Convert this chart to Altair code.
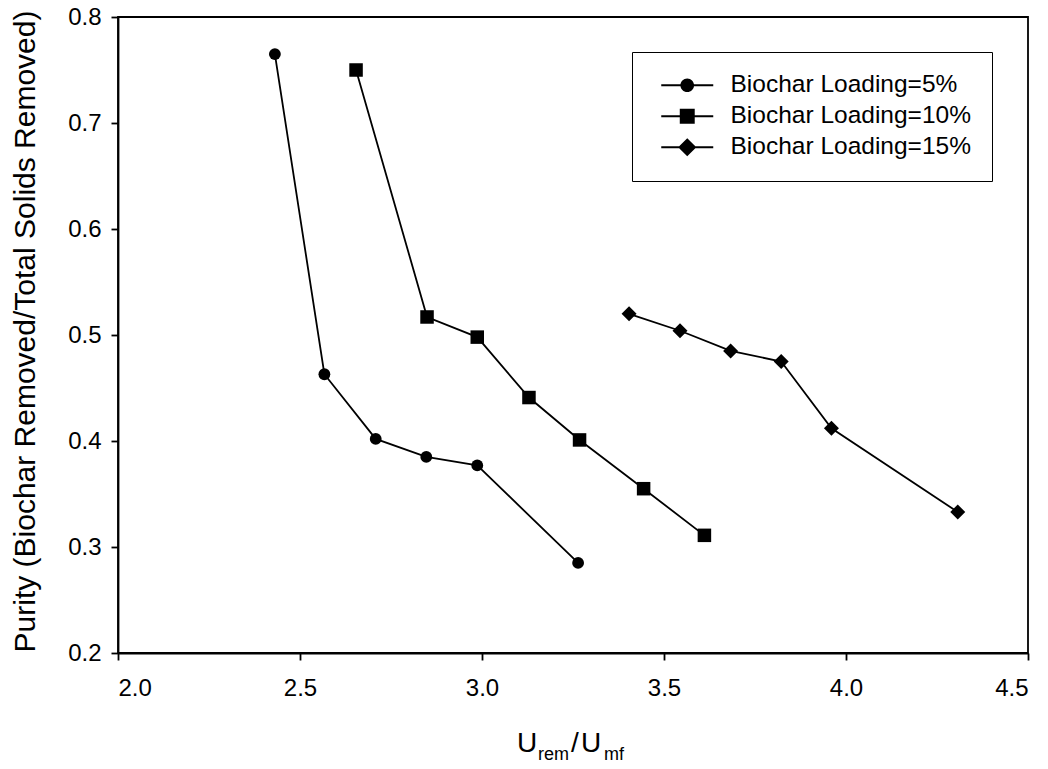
import altair as alt
import pandas as pd

# Series names (legend labels)
series = ["Biochar Loading=5%", "Biochar Loading=10%", "Biochar Loading=15%"]

# U_rem/U_mf values and purity for each biochar loading
u_5 = [2.431, 2.567, 2.708, 2.847, 2.987, 3.264]
p_5 = [0.765, 0.463, 0.402, 0.385, 0.377, 0.285]

u_10 = [2.654, 2.849, 2.987, 3.129, 3.268, 3.444, 3.611]
p_10 = [0.750, 0.517, 0.498, 0.441, 0.401, 0.355, 0.311]

u_15 = [3.404, 3.544, 3.683, 3.822, 3.960, 4.307]
p_15 = [0.520, 0.504, 0.485, 0.475, 0.412, 0.333]

x_ticks = [2.0, 2.5, 3.0, 3.5, 4.0, 4.5]
y_ticks = [0.2, 0.3, 0.4, 0.5, 0.6, 0.7, 0.8]

rows = []
for name, us, ps in zip(series, [u_5, u_10, u_15], [p_5, p_10, p_15]):
    for i, (u, p) in enumerate(zip(us, ps)):
        rows.append({"series": name, "u": u, "p": p, "i": i})
df = pd.DataFrame(rows)

W, H = 910, 636
FONT = "Liberation Sans"

x_enc = alt.X(
    "u:Q",
    scale=alt.Scale(domain=[2.0, 4.5], nice=False, zero=False),
    axis=alt.Axis(values=x_ticks, format=".1f", title=None, grid=False,
                  tickSize=7, labelPadding=16),
)
y_enc = alt.Y(
    "p:Q",
    scale=alt.Scale(domain=[0.2, 0.8], nice=False, zero=False),
    axis=alt.Axis(values=y_ticks, format=".1f", grid=False, tickSize=7,
                  labelPadding=10,
                  title="Purity (Biochar Removed/Total Solids Removed)",
                  titleAngle=270, titleX=-93, titleY=314,
                  titleAlign="center", titleBaseline="middle"),
)

base = alt.Chart(df)

lines = base.mark_line(color="black", strokeWidth=1.8).encode(
    x=x_enc, y=y_enc, detail="series:N", order="i:Q"
)

points = base.mark_point(filled=True, color="black", opacity=1).encode(
    x=x_enc,
    y=y_enc,
    shape=alt.Shape("series:N",
                    scale=alt.Scale(domain=series,
                                    range=["circle", "square", "diamond"]),
                    legend=None),
    size=alt.Size("series:O",
                  scale=alt.Scale(domain=series, range=[140, 225, 324]),
                  legend=None),
)

# Legend symbols: marker with short filled bars either side standing in
# for the connecting line
bars = "M-4,-0.15L-0.9,-0.15L-0.9,0.15L-4,0.15ZM0.9,-0.15L4,-0.15L4,0.15L0.9,0.15Z"
legend_paths = [
    bars + "M-1.05,0A1.05,1.05 0 1,1 1.05,0A1.05,1.05 0 1,1 -1.05,0Z",
    bars + "M-1.15,-1.15L1.15,-1.15L1.15,1.15L-1.15,1.15Z",
    bars + "M0,-1.4L1.4,0L0,1.4L-1.4,0Z",
]

legend_layer = base.transform_filter("false").mark_point(
    filled=True, color="black"
).encode(
    x=x_enc,
    y=y_enc,
    shape=alt.Shape(
        "series:N",
        scale=alt.Scale(domain=series, range=legend_paths),
        legend=alt.Legend(
            title=None, orient="none", legendX=514, legendY=35,
            direction="vertical", padding=21, strokeColor="black",
            fillColor="white", cornerRadius=0,
            labelFont=FONT, labelFontSize=24.5, labelColor="black",
            labelLimit=500, symbolSize=169, symbolOffset=22,
            labelOffset=31, rowPadding=6,
            symbolFillColor="black", symbolOpacity=1,
        ),
    ),
)

# x-axis title U_rem/U_mf built from normal and subscript pieces
one = pd.DataFrame({"k": [0]})


def piece(txt, px, py, size):
    return alt.Chart(one).mark_text(
        text=txt, align="left", baseline="alphabetic", fontSize=size,
        font=FONT, color="black"
    ).encode(x=alt.value(px), y=alt.value(py))


big, small = 28, 18
x_title = [
    piece("U", 399, 735, big),
    piece("rem", 420, 743, small),
    piece("/", 453, 735, big),
    piece("U", 463, 735, big),
    piece("mf", 486, 743, small),
]

chart = alt.layer(lines, points, legend_layer, *x_title).resolve_scale(
    shape="independent", size="independent"
).properties(
    width=W, height=H,
    autosize=alt.AutoSizeParams(type="none"),
    padding={"left": 118, "top": 17, "right": 20, "bottom": 116},
    background="white",
).configure_view(
    stroke="black", strokeWidth=1.8
).configure_axis(
    domainColor="black", domainWidth=1.8, tickColor="black", tickWidth=1.8,
    labelFont=FONT, labelFontSize=24, labelColor="black",
    titleFont=FONT, titleFontSize=30, titleColor="black",
    titleFontWeight="normal",
)

chart.save("out.html", embed_options={"renderer": "svg", "actions": False})
